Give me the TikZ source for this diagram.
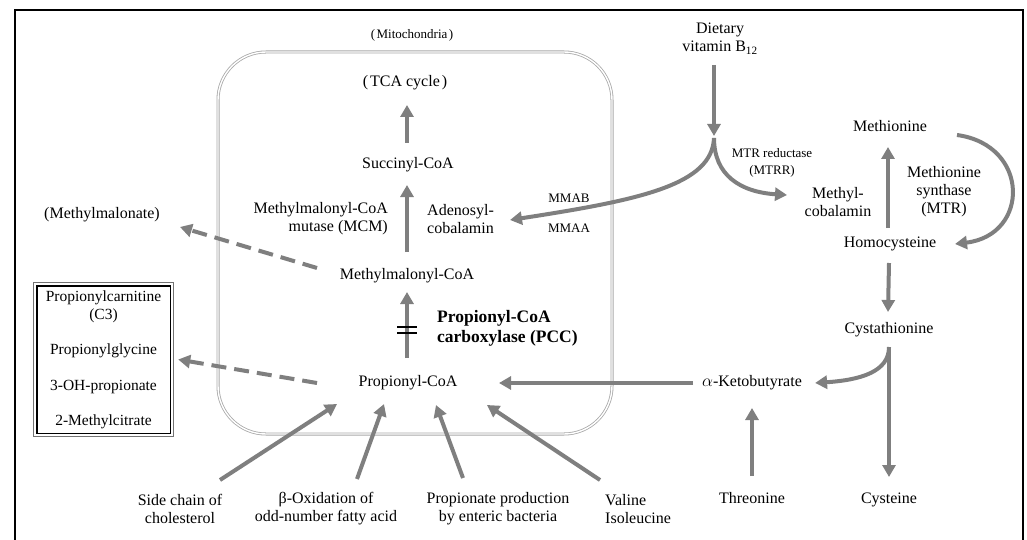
\documentclass[tikz,border=0pt]{standalone}
\usepackage{fontspec}
\setmainfont{Liberation Serif}
\usetikzlibrary{arrows.meta}
\definecolor{arrgray}{HTML}{7F7F7F}
\definecolor{mitogray}{HTML}{A8A8A8}
\begin{document}
\begin{tikzpicture}[x=1pt,y=-1pt,
  arr/.style={draw=arrgray, line width=4pt, -{Triangle[length=12pt,width=13pt]}},
  dasharr/.style={arr, dash pattern=on 15pt off 8pt},
  lbl/.style={font=\fontsize{16}{18}\selectfont, align=center, inner sep=0pt, text height=11pt, text depth=3.5pt},
  multi/.style={font=\fontsize{16}{18}\selectfont, inner sep=0pt},
  small/.style={font=\fontsize{13}{17}\selectfont, align=center, inner sep=0pt},
  boldlbl/.style={font=\fontsize{17.5}{20}\selectfont\bfseries, align=left, inner sep=0pt},
 ]
\useasboundingbox (0,0) rectangle (1027,540);
% outer frame
\draw[line width=2.5pt] (15,560) -- (15,10) -- (1023,10) -- (1023,560);
% mitochondria
\draw[mitogray, line width=0.8pt, double=white, double distance=1.4pt, rounded corners=48pt] (218,52) rectangle (612,434);

% nodes
\node[small] (mito) at (412,35) {(\kern1.5pt Mitochondria\kern1.5pt)};
\node[lbl] (tca) at (405,83) {(\kern2pt TCA cycle\kern2pt)};
\node[lbl] (succ) at (408,165) {Succinyl-CoA};
\node[multi, align=right, anchor=east] (mcm) at (388,219) {Methylmalonyl-CoA\\mutase (MCM)};
\node[multi, align=left, anchor=west] (ado) at (427,219) {Adenosyl-\\cobalamin};
\node[lbl] (mmc) at (407,276) {Methylmalonyl-CoA};
\node[lbl] (mma) at (102,215) {(Methylmalonate)};
\node[boldlbl, anchor=west] (pcc) at (437,328) {Propionyl-CoA\\carboxylase (PCC)};
\node[lbl] (pro) at (408,383) {Propionyl-CoA};
\node[lbl] (kb) at (752,383) {$\alpha$-Ketobutyrate};
\node[multi, font=\fontsize{15.5}{18}\selectfont, align=center, minimum width=139pt, minimum height=153pt] (box) at (103.5,359.5)
  {Propionylcarnitine\\(C3)\\[17pt]Propionylglycine\\[18pt]3-OH-propionate\\[17pt]2-Methylcitrate};
\draw[black!55, line width=0.9pt] (box.north west) rectangle (box.south east);
\draw[black, line width=1.4pt] ([xshift=3pt,yshift=-3pt]box.north west) rectangle ([xshift=-3pt,yshift=3pt]box.south east);
\node[multi, align=center] (side) at (180,509) {Side chain of\\cholesterol};
\node[multi, align=center] (beta) at (326,509) {β-Oxidation of\\odd-number fatty acid};
\node[multi, align=center] (propprod) at (498,509) {Propionate production\\by enteric bacteria};
\node[multi, align=left, anchor=west] (val) at (605,509) {Valine\\Isoleucine};
\node[lbl] (thr) at (752,500) {Threonine};
\node[lbl] (cys) at (889,500) {Cysteine};
\node[lbl] (cyst) at (889,330) {Cystathionine};
\node[lbl] (hcy) at (890,244) {Homocysteine};
\node[lbl] (met) at (890,128) {Methionine};
\node[multi, align=center] (mecbl) at (838,202) {Methyl-\\cobalamin};
\node[multi, align=center] (mtr) at (944,192) {Methionine\\synthase\\(MTR)};
\node[multi, align=center] (b12) at (720,39) {Dietary\\vitamin B\textsubscript{12}};
\node[small] (mtrr) at (772,163) {MTR reductase\\(MTRR)};
\node[small] (mmab) at (569,198) {MMAB};
\node[small] (mmaa) at (569,228) {MMAA};

% arrows inside mitochondria
\draw[arr] ([xshift=-1pt,yshift=22pt]succ.center) -- ([xshift=2pt,yshift=-22pt]tca.center);
\draw[arr] ([yshift=24pt]mmc.center) -- ([xshift=-1pt,yshift=-20pt]succ.center);
\draw[arr] ([xshift=-1pt,yshift=25pt]pro.center) -- ([yshift=-16pt]mmc.center);
\draw[black, line width=2.6pt] ([xshift=-11pt,yshift=56pt]pro.center) -- ++(20,0);
\draw[black, line width=2.6pt] ([xshift=-11pt,yshift=50pt]pro.center) -- ++(20,0);

% dashed arrows
\draw[dasharr] ([xshift=-90pt,yshift=8pt]mmc.center) -- ([xshift=78pt,yshift=-12pt]mma.center);
\draw[dasharr] ([xshift=-91pt]pro.center) -- ([xshift=5pt]box.east);

% into propionyl-CoA
\draw[arr] ([xshift=-59pt]kb.center) -- ([xshift=91pt]pro.center);
\draw[arr] ([xshift=40pt,yshift=29pt]side.center) -- ([xshift=-71pt,yshift=-21pt]pro.center);
\draw[arr] ([xshift=31pt,yshift=30pt]beta.center) -- ([xshift=-24pt,yshift=-21pt]pro.center);
\draw[arr] ([xshift=-35pt,yshift=31pt]propprod.center) -- ([xshift=28pt,yshift=-22pt]pro.center);
\draw[arr] ([xshift=-5pt,yshift=29pt]val.west) -- ([xshift=79pt,yshift=-22pt]pro.center);

% right side
\draw[arr] ([yshift=24pt]thr.center) -- ([yshift=-25pt]kb.center);
\draw[arr] ([yshift=-17pt]cyst.center) -- ([yshift=23pt]cys.center);
\draw[arr] ([yshift=-17pt]cyst.center) .. controls (889,372) and (860,380) .. ([xshift=13pt]kb.east);
\draw[arr] ([xshift=-1pt,yshift=-19pt]hcy.center) -- ([xshift=-1pt,yshift=18pt]cyst.center);
\draw[arr] ([xshift=-2pt,yshift=16pt]hcy.center) -- ([xshift=-2pt,yshift=-19pt]met.center);
\draw[arr] ([xshift=67pt,yshift=-7pt]met.center) .. controls (1030,145) and (1030,235) .. ([xshift=65pt]hcy.center);

% vitamin B12
\coordinate (junc) at (714,138);
\draw[arr] ([xshift=-6pt,yshift=-26pt]b12.center) -- ([yshift=2pt]junc);
\draw[arr] (junc) .. controls (712,185) and (640,200) .. ([xshift=83pt,yshift=-1pt]ado.west);
\draw[arr] (junc) .. controls (714,175) and (740,192) .. ([xshift=-51pt,yshift=7pt]mecbl.center);
\end{tikzpicture}
\end{document}
